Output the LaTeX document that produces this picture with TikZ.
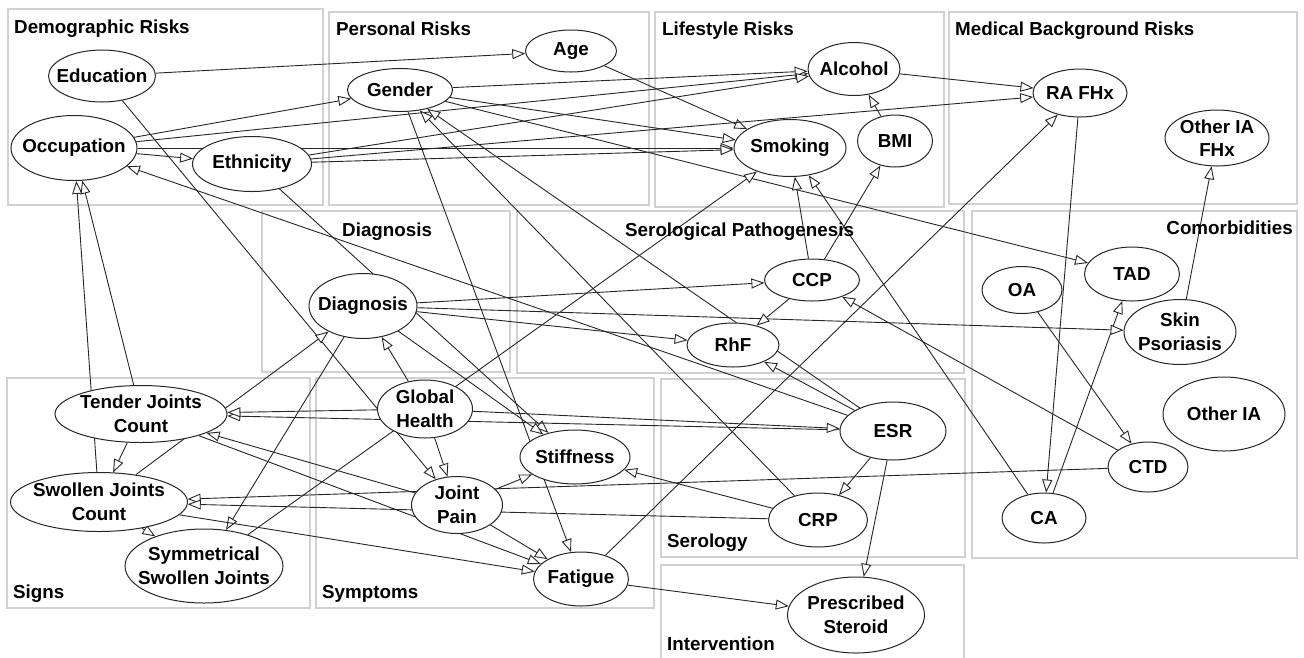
\documentclass[tikz,border=0pt]{standalone}
\usepackage{fontspec}
\setmainfont{Liberation Sans}
\usetikzlibrary{shapes.geometric,arrows.meta}

\pgfdeclarelayer{bg}
\pgfdeclarelayer{links}
\pgfsetlayers{bg,links,main}

\tikzset{
    var/.style={draw=black!85, line width=1pt, ellipse, fill=white, inner sep=0pt},
    sz/.style 2 args={minimum width=#1pt, minimum height=#2pt},
    every label/.style={font=\fontsize{18.8}{23.5}\selectfont\bfseries, align=center, inner sep=0pt},
    grp/.style={draw=black!18, line width=2.5pt},
    grplabel/.style={font=\fontsize{18.8}{23.5}\selectfont\bfseries, inner sep=0pt},
    link/.style={draw=black!85, line width=0.9pt, -{Triangle[fill=white, length=13pt, width=10pt]}}
}

\begin{document}
\begin{tikzpicture}[x=1pt, y=-1pt]

    \useasboundingbox (0,0) rectangle (1304,657);

    % clusters
    \begin{pgfonlayer}{bg}
        \draw[grp] (8,9) rectangle (323,205);
        \draw[grp] (329,12) rectangle (649,205);
        \draw[grp] (655,12) rectangle (944,207);
        \draw[grp] (949,12) rectangle (1297,204);
        \draw[grp] (262,211) rectangle (510,372);
        \draw[grp] (517,211) rectangle (964,373);
        \draw[grp] (972,211) rectangle (1297,558);
        \draw[grp] (7,378) rectangle (310,608);
        \draw[grp] (316,378) rectangle (654,608);
        \draw[grp] (661,379) rectangle (965,557);
        \draw[grp] (661,565) rectangle (964,668);
    \end{pgfonlayer}

    \node[grplabel, anchor=base west] at (14,33) (tDemo) {Demographic Risks};
    \node[grplabel, anchor=base west] at (336,35) (tPers) {Personal Risks};
    \node[grplabel, anchor=base west] at (662,35) (tLife) {Lifestyle Risks};
    \node[grplabel, anchor=base west] at (955,35) (tMed) {Medical Background Risks};
    \node[grplabel, anchor=base west] at (342,236) (tDiag) {Diagnosis};
    \node[grplabel, anchor=base west] at (625,236) (tSero) {Serological Pathogenesis};
    \node[grplabel, anchor=base east] at (1293,234) (tComo) {Comorbidities};
    \node[grplabel, anchor=base west] at (13,598) (tSign) {Signs};
    \node[grplabel, anchor=base west] at (322,598) (tSymp) {Symptoms};
    \node[grplabel, anchor=base west] at (667,547) (tSerl) {Serology};
    \node[grplabel, anchor=base west] at (667,650) (tInt) {Intervention};

    % variables
    \node[var, sz={107}{52}, label=center:{Education}] at (102,76) (edu) {};
    \node[var, sz={126}{65}, label=center:{Occupation}] at (74,148) (occ) {};
    \node[var, sz={119}{55}, label=center:{Ethnicity}] at (252,164) (eth) {};
    \node[var, sz={91}{42}, label=center:{Age}] at (571,51) (age) {};
    \node[var, sz={105}{43}, label=center:{Gender}] at (400,90) (gen) {};
    \node[var, sz={92}{53}, label=center:{Alcohol}] at (854,69) (alc) {};
    \node[var, sz={112}{57}, label=center:{Smoking}] at (790,148) (smk) {};
    \node[var, sz={75}{52}, label=center:{BMI}] at (895,141) (bmi) {};
    \node[var, sz={94}{48}, label=center:{RA FHx}] at (1080,93) (rafhx) {};
    \node[var, sz={104}{56}, label=center:{Other IA\\FHx}] at (1217,138) (oiafhx) {};
    \node[var, sz={108}{65}, label=center:{Diagnosis}] at (363,306) (diag) {};
    \node[var, sz={95}{42}, label=center:{CCP}] at (812,280) (ccp) {};
    \node[var, sz={92}{44}, label=center:{RhF}] at (733,345) (rhf) {};
    \node[var, sz={106}{58}, label=center:{ESR}] at (893,431) (esr) {};
    \node[var, sz={95}{54}, label=center:{TAD}] at (1132,274) (tad) {};
    \node[var, sz={80}{47}, label=center:{OA}] at (1022,290) (oa) {};
    \node[var, sz={112}{65}, label=center:{Skin\\Psoriasis}] at (1180,332) (psor) {};
    \node[var, sz={122}{74}, label=center:{Other IA}] at (1224,414) (oia) {};
    \node[var, sz={80}{50}, label=center:{CTD}] at (1148,467) (ctd) {};
    \node[var, sz={84}{50}, label=center:{CA}] at (1044,518) (ca) {};
    \node[var, sz={172}{57}, label=center:{Tender Joints\\Count}] at (141,414) (tjc) {};
    \node[var, sz={177}{59}, label=center:{Swollen Joints\\Count}] at (99,502) (sjc) {};
    \node[var, sz={158}{74}, label=center:{Symmetrical\\Swollen Joints}] at (204,566) (ssj) {};
    \node[var, sz={95}{58}, label=center:{Global\\Health}] at (425,409) (gh) {};
    \node[var, sz={91}{57}, label=center:{Joint\\Pain}] at (457,505) (jp) {};
    \node[var, sz={110}{54}, label=center:{Stiffness}] at (575,457) (stf) {};
    \node[var, sz={95}{54}, label=center:{Fatigue}] at (581,579) (fat) {};
    \node[var, sz={99}{54}, label=center:{CRP}] at (818,520) (crp) {};
    \node[var, sz={137}{76}, label=center:{Prescribed\\Steroid}] at (856,615) (ster) {};

    % arcs, drawn under the variables
    \begin{pgfonlayer}{links}
        \foreach \a/\b in {edu/age, edu/jp, occ/gen, occ/alc, occ/eth, occ/smk,
            age/smk, gen/alc, gen/smk, gen/tad, gen/fat,
            eth/alc, eth/smk, eth/rafhx, eth/stf, bmi/alc, alc/rafhx,
            rafhx/ca, ca/tad, ca/smk, psor/oiafhx, oa/ctd, ctd/ccp, ctd/sjc,
            diag/ccp, diag/rhf, diag/psor, diag/stf, diag/ssj,
            ccp/rhf, ccp/smk, ccp/bmi,
            esr/rhf, esr/gen, esr/occ, esr/tjc, esr/crp, esr/ster,
            gh/esr, gh/tjc, gh/diag, gh/jp, ssj/smk,
            tjc/occ, tjc/sjc, tjc/fat, sjc/occ, sjc/diag, sjc/ssj, sjc/fat,
            jp/tjc, jp/stf, jp/fat, crp/gen, crp/stf, crp/sjc,
            fat/ster, fat/rafhx}
        {
            \draw[link] (\a) -- (\b);
        }
    \end{pgfonlayer}

\end{tikzpicture}
\end{document}
